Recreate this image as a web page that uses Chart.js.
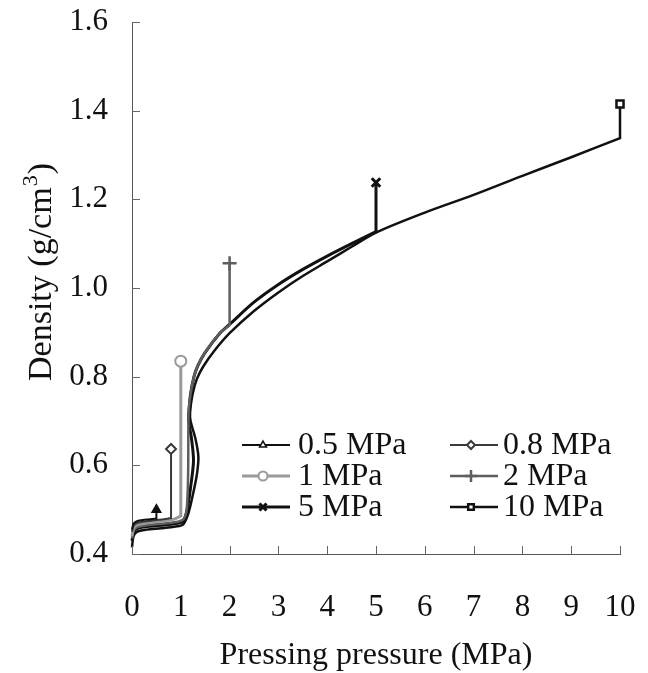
<!DOCTYPE html>
<html>
<head>
<meta charset="utf-8">
<script src="https://cdn.jsdelivr.net/npm/chart.js@4/dist/chart.umd.min.js"></script>
<style>
  html, body { margin: 0; padding: 0; background: #ffffff; }
  #wrap { width: 648px; height: 673px; }
</style>
</head>
<body>
<div id="wrap"><canvas id="c" width="648" height="673"></canvas></div>
<script>
// ---- data ----
const seriesNames = ['0.5 MPa', '0.8 MPa', '1 MPa', '2 MPa', '5 MPa', '10 MPa'];
const maxPressure = [0.5, 0.8, 1, 2, 5, 10];
const finalDensity = [0.50, 0.637, 0.835, 1.056, 1.238, 1.415];

const p05 = [0, 0.03, 0.1, 0.25, 0.5];
const d05 = [0.455, 0.468, 0.474, 0.477, 0.48];

const p08 = [0, 0.03, 0.1, 0.3, 0.55, 0.8];
const d08 = [0.45, 0.463, 0.47, 0.474, 0.477, 0.481];

const p1 = [0, 0.03, 0.1, 0.3, 0.6, 0.85, 1];
const d1 = [0.44, 0.457, 0.465, 0.47, 0.474, 0.478, 0.486];

const p2 = [0, 0.03, 0.1, 0.3, 0.6, 0.9, 1.05, 1.12, 1.15, 1.16, 1.2, 1.27, 1.35, 1.5, 1.8, 2];
const d2 = [0.435, 0.452, 0.46, 0.465, 0.468, 0.472, 0.478, 0.5, 0.58, 0.72, 0.76, 0.80, 0.825, 0.855, 0.898, 0.916];

const p5 = [0, 0.03, 0.1, 0.3, 0.6, 0.9, 1.05, 1.13, 1.2, 1.26, 1.22, 1.16, 1.17, 1.2, 1.27, 1.35, 1.5, 1.8, 2, 2.5, 3, 3.5, 4, 4.5, 5];
const d5 = [0.43, 0.448, 0.457, 0.462, 0.465, 0.469, 0.474, 0.5, 0.55, 0.61, 0.66, 0.70, 0.725, 0.76, 0.80, 0.825, 0.855, 0.898, 0.918, 0.968, 1.008, 1.042, 1.072, 1.1, 1.127];

const p10 = [0, 0.03, 0.1, 0.3, 0.6, 0.9, 1.05, 1.15, 1.24, 1.33, 1.36, 1.3, 1.2, 1.19, 1.24, 1.33, 1.46, 1.7, 2, 2.5, 3, 3.5, 4, 4.5, 5, 6, 7, 8, 9, 10];
const d10 = [0.415, 0.44, 0.45, 0.455, 0.458, 0.462, 0.467, 0.49, 0.53, 0.58, 0.62, 0.66, 0.70, 0.72, 0.76, 0.795, 0.823, 0.86, 0.898, 0.948, 0.99, 1.027, 1.06, 1.093, 1.125, 1.17, 1.21, 1.253, 1.295, 1.338];

const xTicks = [0, 1, 2, 3, 4, 5, 6, 7, 8, 9, 10];
const yTicks = [0.4, 0.6, 0.8, 1.0, 1.2, 1.4, 1.6];

// ---- styles ----
const pressures = [p05, p08, p1, p2, p5, p10];
const densities = [d05, d08, d1, d2, d5, d10];
const colors = ['#111111', '#3a3a3a', '#9a9a9a', '#5e5e5e', '#111111', '#111111'];
const widths = [2, 2, 3, 2.5, 3, 2.5];
const styles = ['triangle', 'rectRot', 'circle', 'cross', 'crossRot', 'rect'];
const radii = [5, 5, 5.5, 7, 6, 5];
const markerFill = ['#111111', '#ffffff', '#ffffff', '#ffffff', '#ffffff', '#ffffff'];
const markerBorder = [1.5, 2, 2, 2.5, 3, 2.5];

const FONT = "'Liberation Serif', 'Times New Roman', serif";

const datasets = seriesNames.map((name, i) => {
  const pts = pressures[i].map((p, k) => ({x: p, y: densities[i][k]}));
  const last = pts[pts.length - 1];
  pts.push({x: last.x, y: last.y});          // corner (keeps the vertical segment straight)
  pts.push({x: maxPressure[i], y: finalDensity[i]});
  const n = pts.length;
  return {
    label: name,
    data: pts,
    borderColor: colors[i],
    borderWidth: widths[i],
    tension: 0.3,
    fill: false,
    clip: false,
    pointStyle: styles[i],
    pointRadius: pts.map((_, k) => k === n - 1 ? radii[i] : 0),
    pointHoverRadius: 0,
    pointBackgroundColor: markerFill[i],
    pointBorderColor: colors[i],
    pointBorderWidth: markerBorder[i]
  };
});

function drawMarker(ctx, style, r, x, y, bw) {
  if (Chart.helpers && Chart.helpers.drawPoint) {
    Chart.helpers.drawPoint(ctx, {pointStyle: style, radius: r, rotation: 0, borderWidth: bw}, x, y);
  }
}

const insideTicks = {
  id: 'insideTicks',
  afterDraw(chart) {
    const ctx = chart.ctx;
    const xs = chart.scales.x, ys = chart.scales.y;
    ctx.save();
    ctx.strokeStyle = '#666666';
    ctx.lineWidth = 1;
    ctx.beginPath();
    xTicks.forEach(v => {
      const px = Math.round(xs.getPixelForValue(v)) + 0.5;
      ctx.moveTo(px, ys.bottom);
      ctx.lineTo(px, ys.bottom - 8);
    });
    yTicks.forEach(v => {
      const py = Math.round(ys.getPixelForValue(v)) + 0.5;
      ctx.moveTo(xs.left, py);
      ctx.lineTo(xs.left + 8, py);
    });
    ctx.stroke();
    ctx.restore();
  }
};

const yTitle = {
  id: 'yTitle',
  afterDraw(chart) {
    const ctx = chart.ctx;
    const main = 'Density (g/cm', sup = '3', close = ')';
    const fMain = '34px ' + FONT, fSup = '22px ' + FONT;
    ctx.save();
    ctx.font = fMain;
    const wMain = ctx.measureText(main).width, wClose = ctx.measureText(close).width;
    ctx.font = fSup;
    const wSup = ctx.measureText(sup).width;
    const total = wMain + wSup + 2 + wClose;
    ctx.translate(39, 272);
    ctx.rotate(-Math.PI / 2);
    ctx.fillStyle = '#111111';
    ctx.textBaseline = 'alphabetic';
    ctx.textAlign = 'left';
    let x = -total / 2;
    const base = 12;
    ctx.font = fMain; ctx.fillText(main, x, base); x += wMain;
    ctx.font = fSup; ctx.fillText(sup, x + 1, base - 14); x += wSup + 2;
    ctx.font = fMain; ctx.fillText(close, x, base);
    ctx.restore();
  }
};

const innerLegend = {
  id: 'innerLegend',
  afterDraw(chart) {
    const ctx = chart.ctx;
    const cols = [{x0: 242, x1: 290, tx: 298}, {x0: 450, x1: 498, tx: 503}];
    const rows = [445, 476, 507];
    ctx.save();
    seriesNames.forEach((name, i) => {
      const c = cols[i % 2], y = rows[Math.floor(i / 2)];
      ctx.strokeStyle = colors[i];
      ctx.lineWidth = widths[i];
      ctx.beginPath();
      ctx.moveTo(c.x0, y);
      ctx.lineTo(c.x1, y);
      ctx.stroke();
      ctx.fillStyle = '#ffffff';
      ctx.strokeStyle = colors[i];
      ctx.lineWidth = markerBorder[i];
      drawMarker(ctx, styles[i], Math.max(3.5, radii[i] - 1), (c.x0 + c.x1) / 2 - 3, y, markerBorder[i]);
      ctx.fillStyle = '#111111';
      ctx.font = '32px ' + FONT;
      ctx.textAlign = 'left';
      ctx.textBaseline = 'middle';
      ctx.fillText(name, c.tx, y + 1);
    });
    ctx.restore();
  }
};

new Chart(document.getElementById('c'), {
  type: 'line',
  data: {datasets},
  options: {
    responsive: false,
    animation: false,
    devicePixelRatio: 1,
    layout: {padding: {left: 0, top: 22, right: 28, bottom: 0}},
    plugins: {legend: {display: false}, tooltip: {enabled: false}},
    scales: {
      x: {
        type: 'linear',
        min: 0, max: 10,
        afterFit(s) { s.height = 119; s.paddingLeft = 0; s.paddingRight = 0; },
        afterBuildTicks(s) { s.ticks = xTicks.map(v => ({value: v})); },
        grid: {display: true, drawOnChartArea: false, drawTicks: false},
        border: {display: true, color: '#555555', width: 1},
        ticks: {color: '#111111', font: {family: FONT, size: 31}, padding: 35, maxRotation: 0,
                callback: v => String(v)},
        title: {display: true, text: 'Pressing pressure (MPa)', color: '#111111',
                font: {family: FONT, size: 32, lineHeight: 1.0}, padding: {top: 0, bottom: 1}}
      },
      y: {
        type: 'linear',
        min: 0.4, max: 1.6,
        afterFit(s) { s.width = 132; s.paddingTop = 0; s.paddingBottom = 0; },
        afterBuildTicks(s) { s.ticks = yTicks.map(v => ({value: v})); },
        grid: {display: true, drawOnChartArea: false, drawTicks: false},
        border: {display: true, color: '#555555', width: 1},
        ticks: {color: '#111111', font: {family: FONT, size: 31}, padding: 24,
                callback: v => Number(v).toFixed(1)},
        title: {display: false}
      }
    }
  },
  plugins: [insideTicks, yTitle, innerLegend]
});
</script>
</body>
</html>
